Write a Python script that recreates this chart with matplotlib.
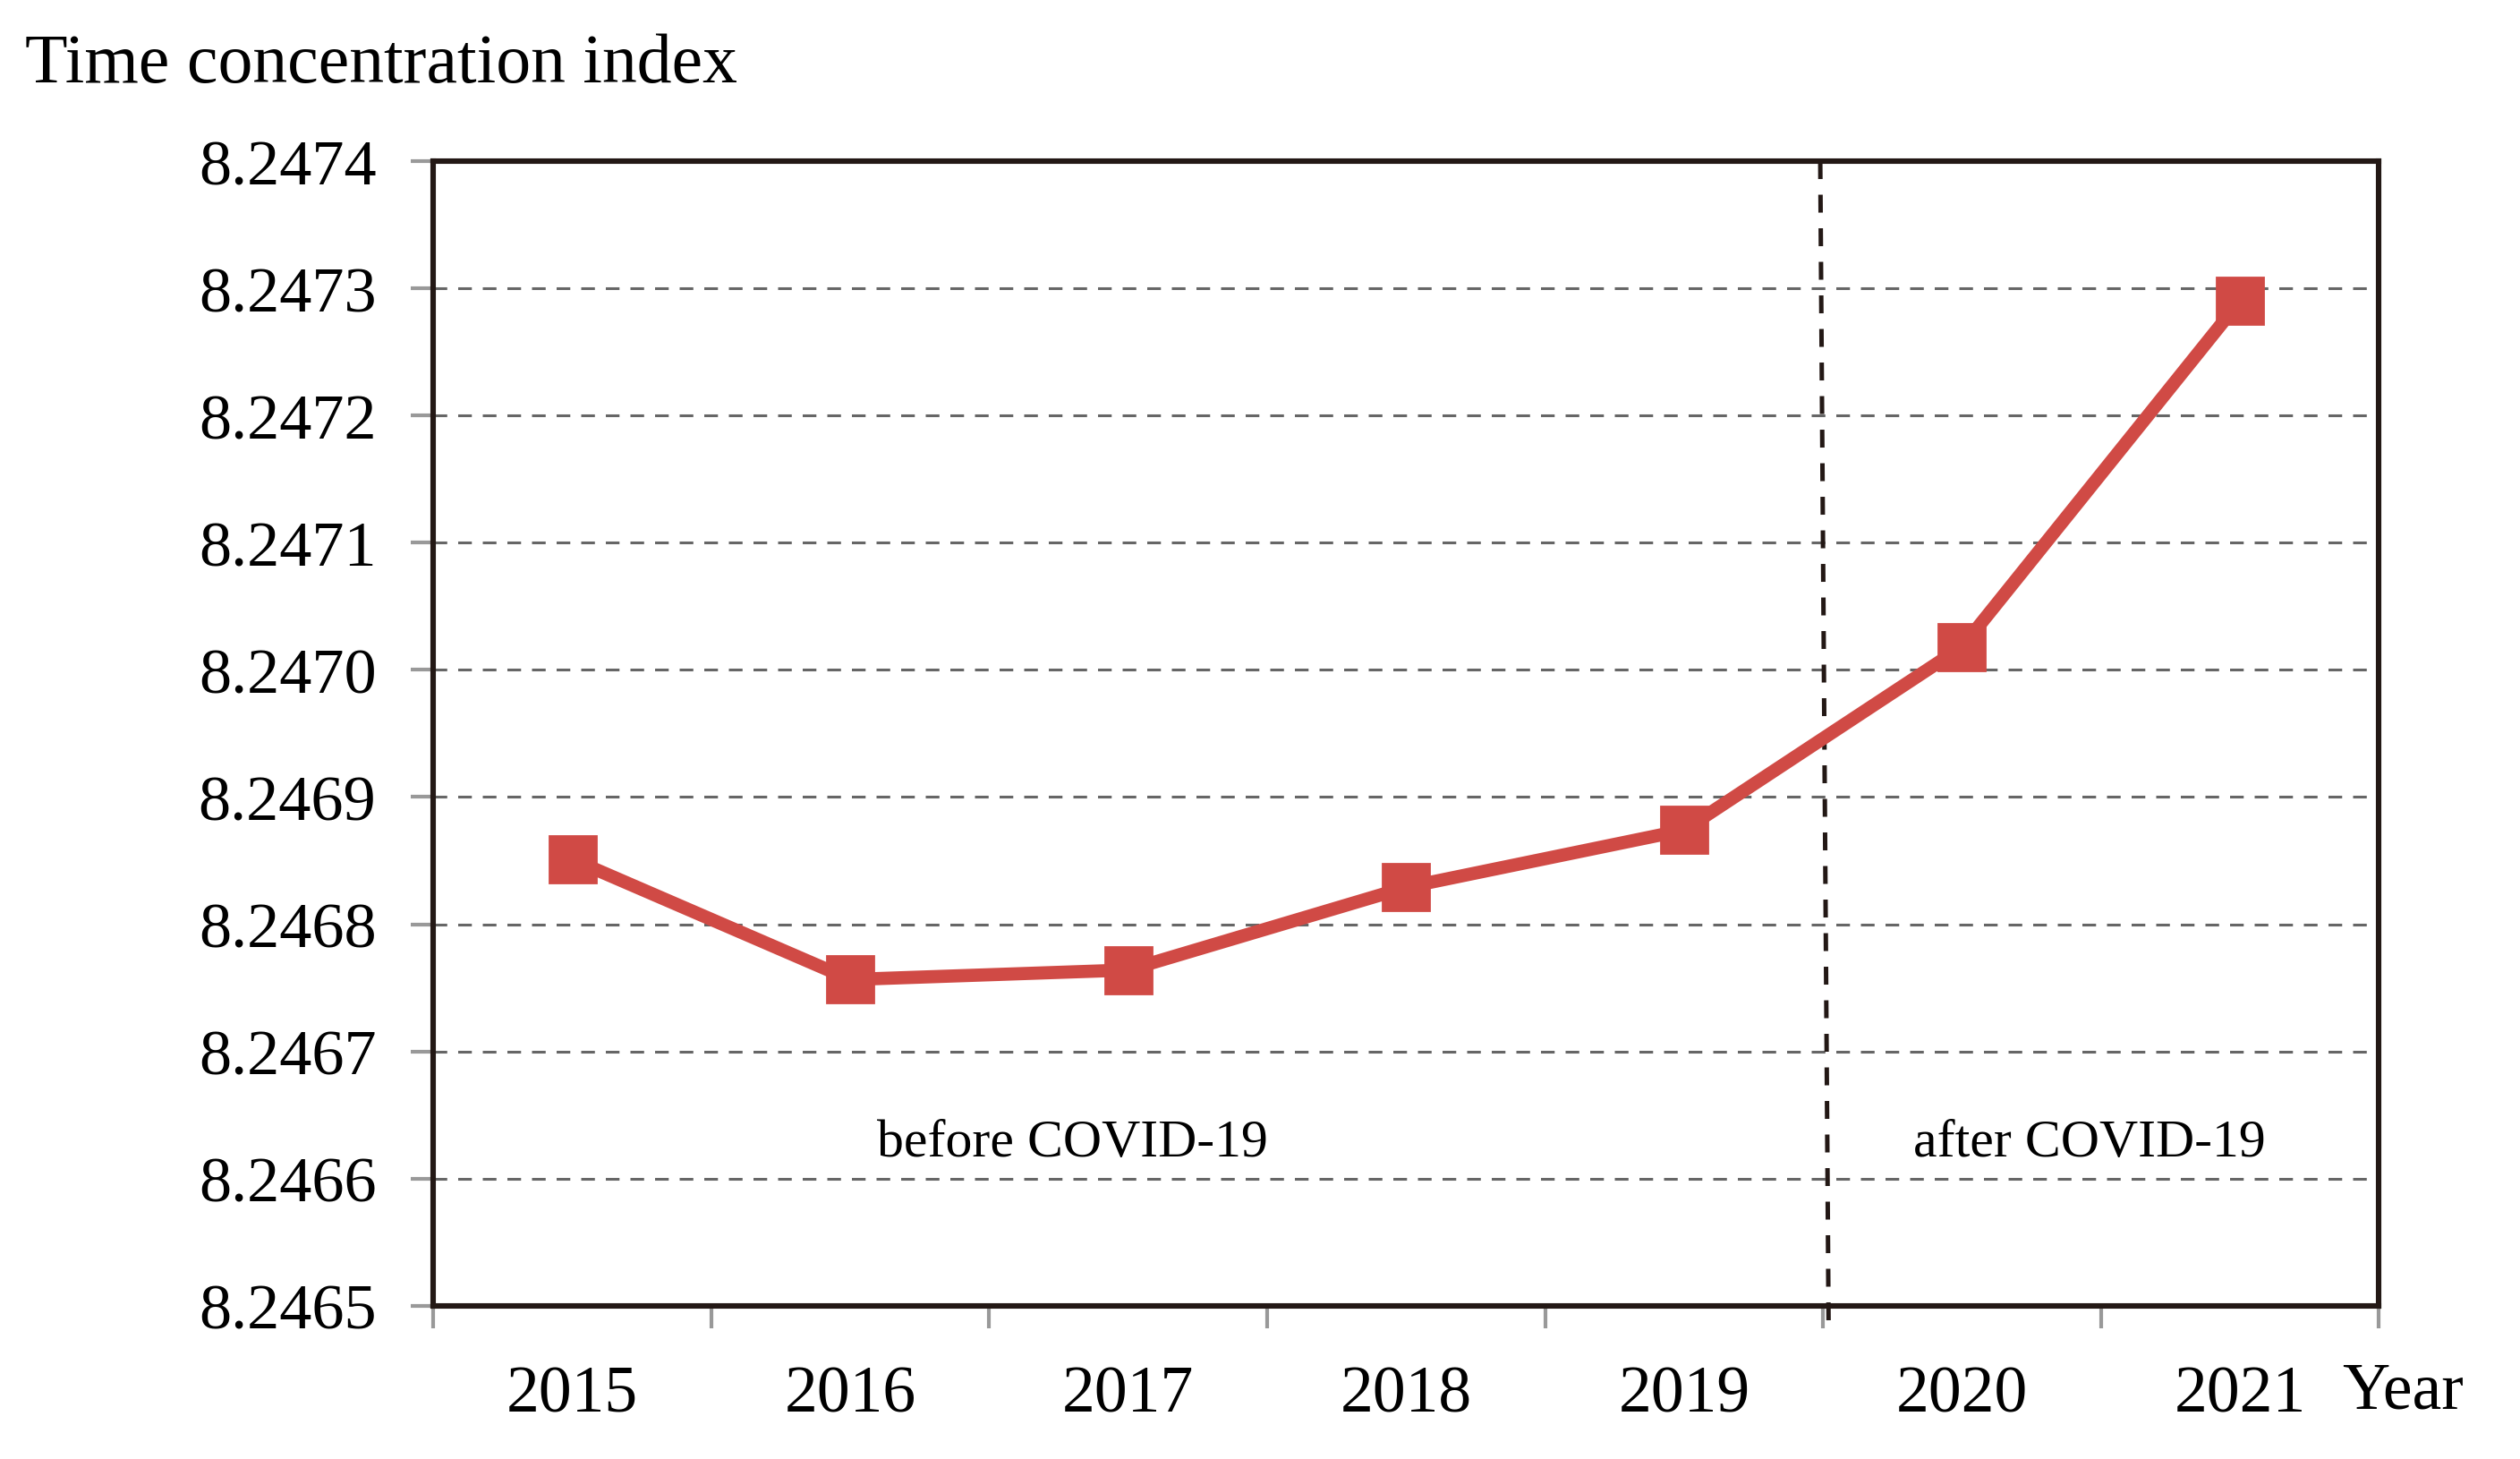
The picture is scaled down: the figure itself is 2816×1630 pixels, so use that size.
import matplotlib
matplotlib.use("Agg")
import matplotlib.pyplot as plt
import numpy as np

plt.rcParams["font.family"] = ["Liberation Serif", "DejaVu Serif"]

years = ["2015", "2016", "2017", "2018", "2019", "2020", "2021"]
index_values = [8.246851, 8.2467565, 8.246764, 8.246829, 8.246874, 8.247018, 8.24729]
y_ticks = [8.2465, 8.2466, 8.2467, 8.2468, 8.2469, 8.2470, 8.2471, 8.2472, 8.2473, 8.2474]

fig = plt.figure(figsize=(14.08, 8.155), dpi=200)
ax = fig.add_axes([0.172, 0.105, 0.772, 0.784])

x = np.arange(len(years))
ax.plot(x, index_values, color="#D04A45", lw=5.3, marker="s", markersize=19,
        markerfacecolor="#D04A45", markeredgecolor="#D04A45", zorder=5)

ax.set_xlim(-0.5, len(years) - 0.5)
ax.set_ylim(y_ticks[0], y_ticks[-1])

for yv in y_ticks[1:-1]:
    ax.axhline(yv, color="#666666", lw=1.1, dashes=(5, 4), zorder=1)

# divider between before / after COVID-19
ax.plot([4.49, 4.52], [y_ticks[-1], y_ticks[0] - 0.000016], color="#231815",
        lw=1.8, dashes=(4, 3.5), clip_on=False, zorder=4)

ax.set_yticks(y_ticks)
ax.set_yticklabels([f"{v:.4f}" for v in y_ticks], fontsize=26)
ax.set_xticks(x)
ax.set_xticklabels(years, fontsize=26.5)
ax.set_xticks(np.arange(-0.5, len(years)), minor=True)
ax.tick_params(axis="x", which="major", length=0, pad=24)
ax.tick_params(axis="x", which="minor", length=9, width=1.5, color="#999999")
ax.tick_params(axis="y", length=9, width=1.5, color="#999999", pad=14)

for s in ax.spines.values():
    s.set_color("#231815")
    s.set_linewidth(2.2)

ax.text(1.8, 8.246628, "before COVID-19", fontsize=21.5, ha="center", va="center")
ax.text(5.46, 8.246628, "after COVID-19", fontsize=21.5, ha="center", va="center")

fig.text(0.01, 0.955, "Time concentration index", fontsize=28, ha="left", va="center")
ax.text(0.981, -0.075, "Year", transform=ax.transAxes, fontsize=26.5, ha="left", va="center")

fig.savefig("out.png", dpi=200)
